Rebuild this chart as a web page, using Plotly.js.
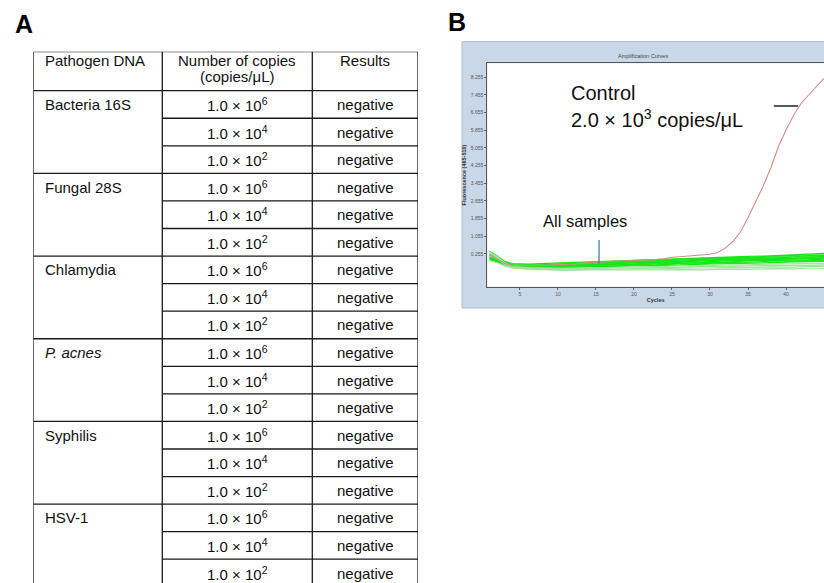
<!DOCTYPE html>
<html><head><meta charset="utf-8">
<script src="https://cdn.plot.ly/plotly-3.0.1.min.js"></script>
<style>html,body{margin:0;padding:0;background:#fff}#chart{width:824px;height:583px}</style>
</head><body><div id="chart"></div>
<script>
// ---------------- Panel A data ----------------
const tableHeaders = ['Pathogen DNA', 'Number of copies', '(copies/μL)', 'Results'];
const pathogens = ['Bacteria 16S', 'Fungal 28S', 'Chlamydia', '<i>P. acnes</i>', 'Syphilis', 'HSV-1'];
const copyLevels = ['1.0 × 10<sup>6</sup>', '1.0 × 10<sup>4</sup>', '1.0 × 10<sup>2</sup>'];
const results = ['negative','negative','negative','negative','negative','negative',
                 'negative','negative','negative','negative','negative','negative',
                 'negative','negative','negative','negative','negative','negative'];

// ---------------- Panel B data ----------------
const cycles = [1,2,3,4,5,6,7,8,9,10,11,12,13,14,15,16,17,18,19,20,21,22,23,24,25,26,27,28,29,30,
                31,32,33,34,35,36,37,38,39,40,41,42,43,44,45];
const control = [0.22,0.02,-0.18,-0.27,-0.28,-0.28,-0.27,-0.26,-0.25,-0.24,-0.22,-0.20,-0.17,-0.14,-0.12,
                 -0.10,-0.08,-0.06,-0.05,-0.04,-0.02,-0.01,0.01,0.04,0.11,0.13,0.16,0.18,0.20,0.24,
                 0.32,0.52,0.82,1.25,1.90,2.58,3.33,4.15,5.12,5.87,6.54,7.08,7.45,7.85,8.21];
const sampleCycles = [1,2,3,4,6,8,11,14,17,20,23,26,29,32,35,38,41,43,45];
const samples = [
  [0.38,0.18,-0.08,-0.18,-0.20,-0.17,-0.15,-0.10,-0.07,-0.03,0.01,0.03,0.08,0.10,0.15,0.17,0.23,0.24,0.28],
  [0.30,0.12,-0.12,-0.22,-0.24,-0.23,-0.18,-0.15,-0.10,-0.06,-0.04,0.02,0.04,0.09,0.10,0.16,0.17,0.21,0.22],
  [0.25,0.08,-0.15,-0.25,-0.27,-0.24,-0.22,-0.17,-0.14,-0.09,-0.07,-0.02,0.01,0.06,0.07,0.12,0.13,0.18,0.18],
  [0.20,0.05,-0.17,-0.27,-0.29,-0.29,-0.24,-0.22,-0.16,-0.14,-0.08,-0.07,-0.01,0.01,0.06,0.07,0.11,0.12,0.14],
  [0.15,0.02,-0.19,-0.28,-0.30,-0.28,-0.27,-0.22,-0.20,-0.14,-0.13,-0.07,-0.06,0.00,0.01,0.06,0.06,0.10,0.11],
  [0.12,0.00,-0.20,-0.30,-0.31,-0.32,-0.27,-0.26,-0.20,-0.19,-0.13,-0.12,-0.06,-0.05,0.00,0.01,0.05,0.05,0.08],
  [0.10,-0.02,-0.22,-0.31,-0.33,-0.31,-0.31,-0.26,-0.25,-0.19,-0.18,-0.12,-0.11,-0.06,-0.05,0.00,0.01,0.04,0.05],
  [0.06,-0.05,-0.24,-0.32,-0.34,-0.35,-0.31,-0.30,-0.25,-0.24,-0.19,-0.17,-0.12,-0.11,-0.06,-0.05,-0.01,-0.01,0.02],
  [0.02,-0.08,-0.25,-0.34,-0.35,-0.34,-0.35,-0.31,-0.30,-0.25,-0.24,-0.19,-0.18,-0.13,-0.12,-0.07,-0.07,-0.03,-0.03],
  [0.00,-0.10,-0.27,-0.35,-0.37,-0.38,-0.35,-0.35,-0.31,-0.30,-0.26,-0.25,-0.20,-0.19,-0.15,-0.14,-0.10,-0.10,-0.08],
  [0.36,0.15,-0.15,-0.30,-0.36,-0.37,-0.39,-0.36,-0.36,-0.32,-0.32,-0.28,-0.28,-0.24,-0.24,-0.20,-0.20,-0.17,-0.17],
  [0.28,0.10,-0.18,-0.33,-0.38,-0.42,-0.40,-0.41,-0.38,-0.38,-0.35,-0.35,-0.31,-0.32,-0.28,-0.28,-0.25,-0.26,-0.24],
  [0.18,0.04,-0.22,-0.36,-0.41,-0.43,-0.46,-0.43,-0.44,-0.41,-0.42,-0.39,-0.39,-0.36,-0.36,-0.33,-0.34,-0.31,-0.31],
  [-0.05,-0.14,-0.28,-0.38,-0.43,-0.46,-0.49,-0.47,-0.48,-0.46,-0.47,-0.45,-0.46,-0.43,-0.44,-0.41,-0.42,-0.39,-0.39]
];
const sampleTone = ['bright','bright','bright','bright','bright','bright','bright','bright','bright','bright',
                    'pale','pale','pale','pale'];
const yTickVals = [0.255,1.055,1.855,2.655,3.455,4.255,5.055,5.855,6.655,7.455,8.255];
const yTickText = ['0.255','1.055','1.855','2.655','3.455','4.255','5.055','5.855','6.655','7.455','8.255'];
const xTickVals = [5,10,15,20,25,30,35,40,45];
const controlPointer = {x: [38.4, 41.6], y: [6.96, 6.96]};
const samplesPointer = {x: [15.4, 15.4], y: [0.89, -0.17]};
const controlLabel = ['Control', '2.0 × 10<sup>3</sup> copies/μL'];
const samplesLabel = 'All samples';

// ---------------- Layout geometry ----------------
const W = 824, H = 583;
const px = v => v / W, py = v => 1 - v / H;
const FONT = 'Liberation Sans, Arial, sans-serif';

const tblLeft = 33.3, tblRight = 418, tblTop = 51.7;
const colEdges = [0, 129, 279, tblRight - tblLeft];
const headH = 39, rowH = 27.56;
const tblBottomRange = H - tblTop;

const shapes = [];
const annotations = [];
const lineStyle = {color: '#1a1a1a', width: 1.3};
const cellFont = {family:FONT, size:15, color:'#111'};

shapes.push({type:'line', xref:'x2', yref:'y2', x0:colEdges[0], x1:colEdges[3], y0:0, y1:0, line:lineStyle});
shapes.push({type:'line', xref:'x2', yref:'y2', x0:colEdges[0], x1:colEdges[3], y0:headH, y1:headH, line:lineStyle});
colEdges.forEach(c => shapes.push({type:'line', xref:'x2', yref:'y2', x0:c, x1:c, y0:0, y1:tblBottomRange, line:lineStyle}));
for (let i = 1; i < results.length; i++) {
  const y = headH + i * rowH;
  const full = (i % copyLevels.length === 0);
  shapes.push({type:'line', xref:'x2', yref:'y2', x0: full ? colEdges[0] : colEdges[1], x1: colEdges[3], y0:y, y1:y, line:lineStyle});
}
const colCenters = [ (colEdges[1]+colEdges[2])/2, (colEdges[2]+colEdges[3])/2 ];
annotations.push({xref:'x2', yref:'y2', x:9.7, y:8.5, xanchor:'left', yanchor:'middle', showarrow:false,
  text: tableHeaders[0], font:cellFont});
annotations.push({xref:'x2', yref:'y2', x:colCenters[0], y:8.5, xanchor:'center', yanchor:'middle', showarrow:false,
  text: tableHeaders[1], font:cellFont});
annotations.push({xref:'x2', yref:'y2', x:colCenters[0], y:24.5, xanchor:'center', yanchor:'middle', showarrow:false,
  text: tableHeaders[2], font:cellFont});
annotations.push({xref:'x2', yref:'y2', x:colCenters[1], y:8.5, xanchor:'center', yanchor:'middle', showarrow:false,
  text: tableHeaders[3], font:cellFont});
for (let i = 0; i < results.length; i++) {
  const yc = headH + (i + 0.5) * rowH;
  const g = Math.floor(i / copyLevels.length), k = i % copyLevels.length;
  if (k === 0) annotations.push({xref:'x2', yref:'y2', x:9.7, y:yc, xanchor:'left', yanchor:'middle', showarrow:false,
      text: pathogens[g], font:cellFont});
  annotations.push({xref:'x2', yref:'y2', x:colCenters[0], y:yc, xanchor:'center', yanchor:'middle', showarrow:false,
      text: copyLevels[k], font:cellFont});
  annotations.push({xref:'x2', yref:'y2', x:colCenters[1], y:yc, xanchor:'center', yanchor:'middle', showarrow:false,
      text: results[i], font:cellFont});
}

shapes.push({type:'rect', xref:'paper', yref:'paper', x0:px(462), x1:1.02, y0:py(308), y1:py(41.7),
  fillcolor:'#c9d8e9', line:{color:'#a9bdd3', width:1}, layer:'below'});
shapes.push({type:'rect', xref:'paper', yref:'paper', x0:px(487.3), x1:1, y0:py(286.7), y1:py(63.3),
  fillcolor:'#ffffff', line:{width:0}, layer:'below'});

annotations.push({xref:'paper', yref:'paper', x:px(13), y:py(24), xanchor:'left', yanchor:'middle', showarrow:false,
  text:'<b>A</b>', font:{family:FONT, size:25, color:'#000'}});
annotations.push({xref:'paper', yref:'paper', x:px(446), y:py(22), xanchor:'left', yanchor:'middle', showarrow:false,
  text:'<b>B</b>', font:{family:FONT, size:25, color:'#000'}});
annotations.push({xref:'paper', yref:'paper', x:px(643), y:py(56.5), xanchor:'center', yanchor:'middle', showarrow:false,
  text:'Amplification Curves', font:{family:FONT, size:5.5, color:'#444'}});
annotations.push({xref:'x', yref:'y', x:11.5, y:7.55, xanchor:'left', yanchor:'middle', showarrow:false,
  text: controlLabel[0], font:{family:FONT, size:20, color:'#111'}});
annotations.push({xref:'x', yref:'y', x:11.5, y:6.37, xanchor:'left', yanchor:'middle', showarrow:false,
  text: controlLabel[1], font:{family:FONT, size:20, color:'#111'}});
annotations.push({xref:'x', yref:'y', x:7.8, y:1.75, xanchor:'left', yanchor:'middle', showarrow:false,
  text: samplesLabel, font:{family:FONT, size:16.5, color:'#111'}});

const traces = [];
samples.forEach((s, i) => traces.push({
  type:'scatter', mode:'lines', x: sampleCycles, y: s, xaxis:'x', yaxis:'y',
  line:{color: sampleTone[i] === 'bright' ? '#17e617' : '#9fe39f', width:1.2},
  hoverinfo:'skip', showlegend:false
}));
traces.push({type:'scatter', mode:'lines', x: cycles, y: control, xaxis:'x', yaxis:'y',
  line:{color:'#d38b8b', width:1.1}, hoverinfo:'skip', showlegend:false});
traces.push({type:'scatter', mode:'lines', x: controlPointer.x, y: controlPointer.y, xaxis:'x', yaxis:'y',
  line:{color:'#222', width:1.5}, hoverinfo:'skip', showlegend:false, cliponaxis:false});
traces.push({type:'scatter', mode:'lines', x: samplesPointer.x, y: samplesPointer.y, xaxis:'x', yaxis:'y',
  line:{color:'#4d74b5', width:1.3}, hoverinfo:'skip', showlegend:false});
traces.push({type:'scatter', mode:'markers', x:[0], y:[0], xaxis:'x2', yaxis:'y2',
  marker:{opacity:0}, hoverinfo:'skip', showlegend:false});

const hiddenAxis = {showgrid:false, zeroline:false, showticklabels:false, ticks:'', showline:false, fixedrange:true};

const layout = {
  width: W, height: H,
  margin: {l:0, r:0, t:0, b:0, pad:0},
  paper_bgcolor:'#ffffff', plot_bgcolor:'#ffffff',
  showlegend:false,
  font:{family:FONT},
  xaxis: {
    domain:[px(487.3), 1], range:[0.7, 45.0], anchor:'y',
    tickvals: xTickVals, ticks:'outside', ticklen:2, tickcolor:'#666',
    tickfont:{family:FONT, size:5, color:'#555'},
    showline:true, linecolor:'#555', linewidth:1, mirror:true,
    showgrid:false, zeroline:false, fixedrange:true,
    title:{text:'<b>Cycles</b>', font:{family:FONT, size:5.5, color:'#333'}, standoff:2}
  },
  yaxis: {
    domain:[py(286.7), py(63.3)], range:[-1.226, 8.889], anchor:'x',
    tickvals: yTickVals, ticktext: yTickText, ticks:'outside', ticklen:2, tickcolor:'#666',
    tickfont:{family:FONT, size:5, color:'#555'},
    showline:true, linecolor:'#555', linewidth:1,
    showgrid:false, zeroline:false, fixedrange:true,
    title:{text:'<b>Fluorescence (465-510)</b>', font:{family:FONT, size:5.5, color:'#333'}, standoff:3}
  },
  xaxis2: Object.assign({domain:[px(tblLeft), px(tblRight)], range:[0, colEdges[3]], anchor:'y2'}, hiddenAxis),
  yaxis2: Object.assign({domain:[0, py(tblTop)], range:[tblBottomRange, 0], anchor:'x2'}, hiddenAxis),
  shapes: shapes,
  annotations: annotations
};

Plotly.newPlot('chart', traces, layout, {displayModeBar:false, staticPlot:true});
</script>
</body></html>
